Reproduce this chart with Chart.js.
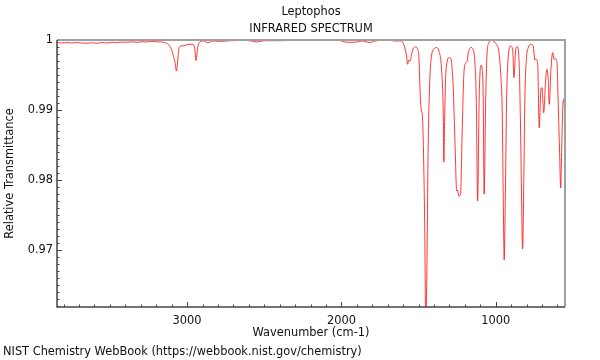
<!DOCTYPE html>
<html><head><meta charset="utf-8">
<style>html,body{margin:0;padding:0;background:#fff;}#wrap{width:600px;height:360px;}</style>
<script src="https://cdn.jsdelivr.net/npm/chart.js@4.4.0/dist/chart.umd.min.js"></script>
</head><body><div id="wrap"><canvas id="c" width="600" height="360"></canvas></div>
<script>
const wavenumbers = [3845,3812,3780,3748,3715,3683,3650,3618,3585,3553,3521,3488,3456,3423,3391,3359,3326,3294,3261,3229,3196,3164,3145,3123,3101,3091,3078,3069,3060,3052,3036,3015,2994,2961,2950,2942,2933,2922,2896,2864,2833,2788,2723,2658,2593,2550,2516,2464,2399,2334,2269,2205,2140,2075,2010,1978,1945,1900,1867,1816,1783,1751,1706,1654,1610,1593,1578,1571,1563,1554,1545,1535,1519,1506,1498,1489,1482,1474,1467,1459,1454,1446,1438,1427,1416,1399,1383,1368,1351,1340,1336,1331,1325,1316,1303,1290,1282,1276,1263,1253,1247,1239,1228,1217,1206,1193,1185,1178,1161,1146,1135,1126,1117,1107,1096,1088,1081,1075,1065,1057,1044,1027,1010,994,979,966,958,951,945,938,929,919,903,890,882,871,861,848,840,833,826,817,811,800,789,772,757,746,737,728,718,707,700,689,676,668,660,653,642,631,621,612,603,595,586,579,573,564,558,551];
const transmittance = [0.99964,0.99957,0.99964,0.99957,0.99964,0.99957,0.99953,0.99961,0.99953,0.99964,0.99957,0.99967,0.99961,0.99971,0.99967,0.99974,0.99967,0.99976,0.99971,0.99981,0.99974,0.99971,0.99964,0.99939,0.99867,0.99786,0.99676,0.99557,0.99724,0.99890,0.99914,0.99921,0.99939,0.99939,0.99867,0.99707,0.99867,0.99961,0.99986,0.99961,0.99986,0.99981,0.99990,0.99993,0.99990,0.99971,0.99986,0.99990,0.99990,0.99993,0.99996,0.99997,0.99996,0.99997,0.99993,0.99971,0.99967,0.99971,0.99986,0.99964,0.99986,0.99993,1.0,0.99986,0.99986,0.99914,0.99771,0.99653,0.99714,0.99700,0.99796,0.99876,0.99900,0.99867,0.99771,0.99200,0.99000,0.98881,0.98286,0.97143,0.95857,0.96714,0.98429,0.99429,0.99771,0.99876,0.99893,0.99843,0.99581,0.98957,0.98257,0.98857,0.99429,0.99676,0.99747,0.99733,0.99581,0.99357,0.98476,0.97843,0.97857,0.97771,0.97786,0.98714,0.99529,0.99676,0.99700,0.99814,0.99893,0.99864,0.99676,0.99143,0.97700,0.99186,0.99639,0.99600,0.99143,0.97800,0.99143,0.99771,0.99961,1.0,0.99971,0.99939,0.99819,0.99457,0.99000,0.97714,0.96857,0.97714,0.99186,0.99757,0.99914,0.99857,0.99461,0.99857,0.99904,0.99667,0.98857,0.97857,0.97014,0.98143,0.99186,0.99757,0.99890,0.99939,0.99914,0.99714,0.99724,0.99653,0.98747,0.99300,0.99319,0.98961,0.99443,0.99581,0.99443,0.99081,0.99581,0.99819,0.99724,0.99733,0.99676,0.99104,0.98390,0.97886,0.98390,0.99104,0.99153,0.98867];
const xTickValues = [1000, 2000, 3000];
const yTickValues = [0.97, 0.98, 0.99, 1];
const titleLines = ['Leptophos', 'INFRARED SPECTRUM'];
const xTitle = 'Wavenumber (cm-1)';
const yTitle = 'Relative Transmittance';
const footerText = 'NIST Chemistry WebBook (https://webbook.nist.gov/chemistry)';
const FONT = '"DejaVu Sans", sans-serif';
const FS = 11.4;

const decorPlugin = {
  id: 'decor',
  afterDatasetsDraw(chart) {
    const {ctx, chartArea: a, scales: {x, y}} = chart;
    ctx.save();
    ctx.strokeStyle = '#444';
    ctx.lineWidth = 1;
    ctx.beginPath();
    for (let w = 600; w <= 3800; w += 100) {
      const px = Math.round(x.getPixelForValue(w)) + 0.5;
      const len = (w % 1000 === 0) ? 5 : 2.5;
      ctx.moveTo(px, a.bottom);
      ctx.lineTo(px, a.bottom - len);
    }
    for (let k = 962; k <= 999; k++) {
      const py = Math.round(y.getPixelForValue(k / 1000)) + 0.5;
      const len = (k % 10 === 0) ? 5 : 2.5;
      ctx.moveTo(a.left, py);
      ctx.lineTo(a.left + len, py);
    }
    ctx.stroke();
    ctx.strokeStyle = '#a0a0a0';
    ctx.lineWidth = 2;
    ctx.beginPath();
    ctx.moveTo(a.left, a.top);
    ctx.lineTo(a.right, a.top);
    ctx.lineTo(a.right, a.bottom);
    ctx.stroke();
    ctx.strokeStyle = '#444';
    ctx.lineWidth = 1.5;
    ctx.beginPath();
    ctx.moveTo(a.left, a.top);
    ctx.lineTo(a.left, a.bottom);
    ctx.lineTo(a.right, a.bottom);
    ctx.stroke();
    ctx.fillStyle = '#111';
    ctx.font = FS + 'px ' + FONT;
    ctx.textAlign = 'center';
    ctx.textBaseline = 'middle';
    const cx = (a.left + a.right) / 2;
    ctx.fillText(titleLines[0], cx, 12);
    ctx.fillText(titleLines[1], cx, 29);
    ctx.textAlign = 'left';
    ctx.fillText(footerText, 3, 352);
    ctx.restore();
  }
};

new Chart(document.getElementById('c'), {
  type: 'line',
  data: {
    datasets: [{
      data: wavenumbers.map((w, i) => ({x: w, y: transmittance[i]})),
      borderColor: 'rgba(255,20,20,0.85)',
      borderWidth: 1,
      pointRadius: 0,
      fill: false,
      cubicInterpolationMode: 'monotone'
    }]
  },
  options: {
    responsive: false,
    animation: false,
    devicePixelRatio: 1,
    layout: {padding: {top: 40, right: 35, left: 0, bottom: 0}},
    plugins: {legend: {display: false}, tooltip: {enabled: false}, title: {display: false}},
    scales: {
      x: {
        type: 'linear',
        reverse: true,
        min: 551,
        max: 3843,
        grid: {display: false, drawTicks: false},
        border: {display: false},
        afterBuildTicks: s => { s.ticks = xTickValues.map(v => ({value: v})); },
        afterFit: s => { s.height = 53; },
        ticks: {color: '#111', font: {family: FONT, size: FS}, padding: 7, maxRotation: 0,
                callback: v => String(v)},
        title: {display: true, text: xTitle, color: '#111', font: {family: FONT, size: FS},
                padding: {top: 0, bottom: 20}}
      },
      y: {
        type: 'linear',
        min: 0.96186,
        max: 1.0,
        grid: {display: false, drawTicks: false},
        border: {display: false},
        afterBuildTicks: s => { s.ticks = yTickValues.map(v => ({value: v})); },
        afterFit: s => { s.width = 57; },
        ticks: {color: '#111', font: {family: FONT, size: FS}, padding: 4,
                callback: v => (v === 1 ? '1' : v.toFixed(2))},
        title: {display: true, text: yTitle, color: '#111', font: {family: FONT, size: FS},
                padding: {top: 3, bottom: 0}}
      }
    }
  },
  plugins: [decorPlugin]
});
</script></body></html>
